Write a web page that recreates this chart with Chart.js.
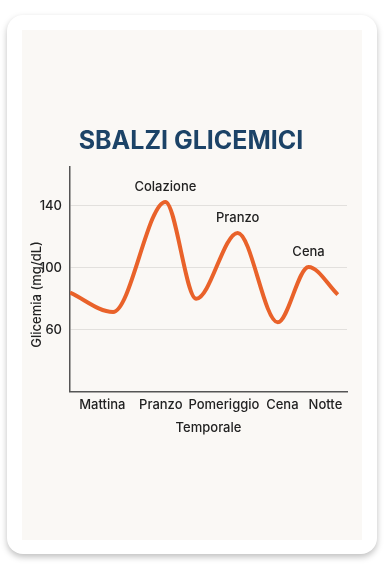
<!DOCTYPE html>
<html>
<head>
<meta charset="utf-8">
<script src="https://cdn.jsdelivr.net/npm/chart.js@4"></script>
<style>
  body { margin: 0; background: #fff; width: 384px; height: 576px; overflow: hidden; }
  .card {
    position: absolute; left: 7px; top: 15px; width: 370px; height: 539px;
    background: #fff; border-radius: 16px;
    box-shadow: 0 3px 6px rgba(0,0,0,0.25);
  }
  .panel {
    position: absolute; left: 15px; top: 15px; width: 340px; height: 510px;
    background: #faf8f5;
  }
  canvas { display: block; }
</style>
</head>
<body>
<div class="card">
  <div class="panel">
    <canvas id="glucoseChart" width="340" height="510"></canvas>
  </div>
</div>
<script>
// ora del giorno (h) e glicemia
const hours = [6, 8.8, 12.2, 14.2, 16.9, 19.5, 21.5, 23.4];
const glucose = [84, 71.5, 142.5, 80, 122.5, 64.8, 100.5, 82.7];

const tickHours = [8.1, 11.9, 16.0, 19.8, 22.6];
const tickLabels = ['Mattina', 'Pranzo', 'Pomeriggio', 'Cena', 'Notte'];
const yTicks = [60, 100, 140];

// etichette dei picchi
const peakIndex = [2, 4, 6];
const peakLabels = ['Colazione', 'Pranzo', 'Cena'];

const font = "'Inter', 'Noto Sans', sans-serif";

const peakLabelPlugin = {
    id: 'peakLabels',
    afterDatasetsDraw(chart) {
        const ctx = chart.ctx;
        const meta = chart.getDatasetMeta(0);
        ctx.save();
        ctx.textAlign = 'center';
        ctx.textBaseline = 'middle';
        // titolo centrato sul pannello
        ctx.font = 'bold 25px ' + font;
        ctx.fillStyle = '#1c4367';
        ctx.fillText('SBALZI GLICEMICI', 169, 111);

        ctx.font = '500 13px ' + font;
        ctx.fillStyle = '#222';
        peakIndex.forEach((idx, i) => {
            const pt = meta.data[idx];
            ctx.fillText(peakLabels[i], pt.x, pt.y - 15);
        });
        // titolo asse y (sovrapposto alle etichette come nell'originale)
        const area = chart.chartArea;
        ctx.translate(15, (area.top + area.bottom) / 2 + 15);
        ctx.rotate(-Math.PI / 2);
        ctx.fillText('Glicemia (mg/dL)', 0, 0);
        ctx.restore();
    }
};

const ctx = document.getElementById('glucoseChart').getContext('2d');
new Chart(ctx, {
    type: 'line',
    data: {
        datasets: [{
            data: hours.map((h, i) => ({ x: h, y: glucose[i] })),
            borderColor: '#e9622a',
            borderWidth: 4,
            pointRadius: 0,
            cubicInterpolationMode: 'monotone',
            fill: false
        }]
    },
    options: {
        responsive: false,
        animation: false,
        layout: { padding: { left: 0, right: 15, top: 137, bottom: 100 } },
        plugins: {
            legend: { display: false },
            tooltip: { enabled: false },
            title: { display: false }
        },
        scales: {
            x: {
                type: 'linear',
                min: 6,
                max: 24,
                afterBuildTicks: axis => { axis.ticks = tickHours.map(v => ({ value: v })); },
                ticks: {
                    autoSkip: false,
                    maxRotation: 0,
                    color: '#222',
                    font: { family: font, size: 13, weight: '500' },
                    padding: 5,
                    callback: (v, i) => tickLabels[i]
                },
                grid: { display: false, drawTicks: false },
                border: { color: '#555', width: 1.5 },
                title: {
                    display: true,
                    text: 'Temporale',
                    color: '#222',
                    font: { family: font, size: 13, weight: '500' },
                    padding: { top: 3 }
                }
            },
            y: {
                min: 20,
                max: 165,
                afterBuildTicks: axis => { axis.ticks = yTicks.map(v => ({ value: v })); },
                afterFit: axis => { axis.width = 48; },
                ticks: {
                    color: '#222',
                    font: { family: font, size: 13, weight: '500' },
                    padding: 8
                },
                grid: { color: '#e2e0dd', lineWidth: 1, drawTicks: false },
                border: { color: '#555', width: 1.5 }
            }
        }
    },
    plugins: [peakLabelPlugin]
});
</script>
</body>
</html>
